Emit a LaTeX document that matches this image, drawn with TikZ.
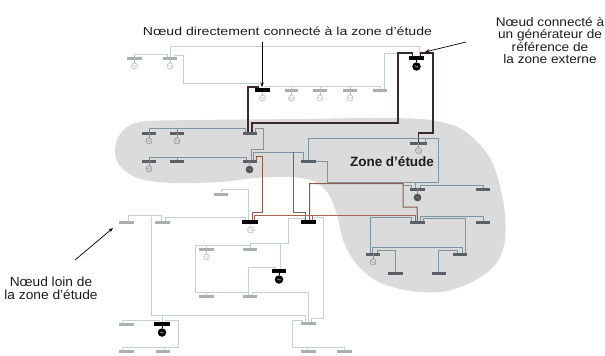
\documentclass[tikz,border=0pt]{standalone}
\usepackage{fontspec}
\usepackage{graphicx}
\setmainfont{Liberation Sans}
\usetikzlibrary{arrows.meta}
\definecolor{blobc}{RGB}{219,219,219}
\definecolor{olc}{RGB}{196,207,214}
\definecolor{zlc}{RGB}{122,150,162}
\definecolor{brc}{RGB}{140,88,74}
\definecolor{dkc}{RGB}{55,42,40}
\definecolor{rbc}{RGB}{172,100,82}
\definecolor{obc}{RGB}{168,176,181}
\definecolor{zbc}{RGB}{90,96,102}
\definecolor{ogc}{RGB}{183,190,195}
\definecolor{zgc}{RGB}{138,146,151}
\definecolor{dgc}{RGB}{80,84,88}
\definecolor{txtc}{RGB}{30,30,30}
\tikzset{
  outline/.style={draw=olc,line width=0.9pt},
  zline/.style={draw=zlc,line width=1pt},
  bline/.style={draw=brc,line width=1pt},
  dline/.style={draw=dkc,line width=1.2pt},
  rline/.style={draw=rbc,line width=1pt},
  busbase/.style={rectangle,inner sep=0pt,minimum height=2.6pt,minimum width=#1},
  busbase/.default=14pt,
  ob/.style={busbase=#1,fill=obc},
  ob/.default=14pt,
  zb/.style={busbase=#1,fill=zbc},
  zb/.default=14pt,
  kb/.style={busbase=#1,fill=black,minimum height=3pt},
  kb/.default=15pt,
  wave/.style={path picture={\draw[line width=0.35pt,draw=#1]
     ([xshift=-1.7pt]path picture bounding box.center)
     .. controls +(0.6pt,1.1pt) and +(-0.6pt,1.1pt) .. (path picture bounding box.center)
     .. controls +(0.6pt,-1.1pt) and +(-0.6pt,-1.1pt) .. ([xshift=1.7pt]path picture bounding box.center);}},
  gl/.style={circle,draw=ogc,line width=0.6pt,minimum size=6pt,inner sep=0pt,wave=ogc},
  gz/.style={circle,draw=zgc,line width=0.6pt,minimum size=6pt,inner sep=0pt,wave=zgc},
  gd/.style={circle,draw=dgc,fill=dgc,line width=0.6pt,minimum size=7pt,inner sep=0pt,wave=zgc},
  gk/.style={circle,fill=black,minimum size=8.5pt,inner sep=0pt,wave=white},
  stubo/.style={draw=ogc,line width=0.6pt},
  stubz/.style={draw=zgc,line width=0.6pt},
  stubk/.style={draw=black,line width=1pt},
  arr/.style={draw=black,line width=0.7pt,-{Stealth[length=4.5pt,width=3.5pt]}},
  lbl/.style={text=txtc,inner sep=0pt},
}
\begin{document}
\begin{tikzpicture}[x=1pt,y=-1pt]
\useasboundingbox (0,0) rectangle (605,356);
\fill[white] (0,0) rectangle (605,356);
% study zone
\fill[blobc] plot[smooth cycle,tension=0.55] coordinates {
 (140,122) (200,120) (300,119) (380,118) (430,120) (463,130) (490,158)
 (503,200) (505,240) (495,265) (470,283) (440,292) (405,290) (375,280)
 (355,262) (343,240) (337,215) (328,193) (313,181) (290,177) (255,178)
 (220,182) (175,183) (140,179) (120,166) (115,150) (121,133)};

% ---- buses ----
\node[ob=15pt] (b1) at (134.5,58) {};
\node[ob] (b2) at (170,58) {};
\node[kb] (mt) at (262.5,90) {};
\node[ob=13pt] (m1) at (291.5,90) {};
\node[ob] (m2) at (320,90) {};
\node[ob] (m3) at (350,90) {};
\node[ob] (m4) at (380,90) {};
\node[kb=14pt] (tr) at (416.5,58) {};
\node[zb] (A) at (149,133) {};
\node[zb] (B) at (177,133) {};
\node[zb] (C) at (250,133) {};
\node[zb] (D) at (149,161) {};
\node[zb] (E) at (177,161) {};
\node[zb] (F) at (250,161) {};
\node[zb] (I) at (308.5,161) {};
\node[zb=17pt] (H) at (418.5,143) {};
\node[zb=15pt] (L) at (417.5,189) {};
\node[zb] (M) at (483,189) {};
\node[zb=15pt] (N) at (417.5,222) {};
\node[zb] (O) at (483,222) {};
\node[zb] (P) at (373,254) {};
\node[zb] (Q) at (460,254) {};
\node[zb=15pt] (R) at (395.5,273) {};
\node[zb] (S) at (439,273) {};
\node[ob] (T) at (221,194) {};
\node[kb] (J) at (250,222) {};
\node[kb=14pt] (K) at (308.5,222) {};
\node[ob] (V) at (126.5,222) {};
\node[ob=15pt] (W) at (162.5,222) {};
\node[ob] (AA) at (206.5,249) {};
\node[ob] (AB) at (250,249) {};
\node[kb=14pt] (AC) at (279,271) {};
\node[ob] (AD) at (206.5,296) {};
\node[ob] (AE) at (250,296) {};
\node[ob] (U) at (308.5,323) {};
\node[ob] (AH) at (126.5,324) {};
\node[kb] (Z) at (162,324) {};
\node[ob] (AG) at (126.5,351) {};
\node[ob=14pt] (AF) at (163,351) {};
\node[ob] (AI) at (308.5,351) {};
\node[ob=15pt] (AJ) at (344.5,351) {};

% free corner points
\coordinate (j1) at (398,53);
\coordinate (j2) at (293,152);
\coordinate (j3) at (151,217);
\coordinate (j4) at (195,245);
\coordinate (j5) at (280,243);
\coordinate (j6) at (292,320);

% ---- connectors ----
% outer top network
\draw[outline] (b2.center) -- ++(0,-12) -| ([xshift=2.5pt]tr.center);
\draw[outline] (b1.center) -- ++(0,-4) -| ([xshift=-3pt]b2.center);
\draw[outline] ([xshift=4pt]b2.center) -- ++(0,-3) -- ++(9,0) -- (183,83) -| ([xshift=-4pt]mt.center);
\draw[outline] ([xshift=3pt]mt.center) -- ++(0,-4) -| (m4.center);
\draw[outline] (m1.center) -- ++(0,-4);
\draw[outline] (m2.center) -- ++(0,-4);
\draw[outline] (m3.center) -- ++(0,-4);
\draw[outline] ([xshift=4pt]m4.center) |- (j1);
% dark links to the zone
\draw[dline] ([xshift=-4pt]tr.center) |- (j1) -- (398,123) -| ([xshift=2pt]C.center);
\draw[dline] ([xshift=4pt]tr.center) -- ++(0,-5) -| (433,133) -| (H.center);
\draw[dline] ([xshift=-4pt]mt.center) -- ++(0,-3) -| ([xshift=-2pt]C.center);
% zone
\draw[zline] (A.center) -- ++(0,-5) -| ([xshift=-5pt]C.center);
\draw[zline] (B.center) -- ++(0,-5);
\draw[zline] ([xshift=5pt]C.center) -- ++(0,-5) -- ++(8,0) |- (251,149) -| ([xshift=1pt]F.center);
\draw[zline] (D.center) -- ++(0,-4) -| ([xshift=-4pt]F.center);
\draw[zline] (E.center) -- ++(0,-4);
\draw[zline] ([xshift=3pt]F.center) -- ++(0,-9) -| ([xshift=-5pt]I.center);
\draw[bline] (j2) -- (293,212) -| ([xshift=-3pt]K.center);
\draw[bline] ([xshift=6pt]F.center) -- ++(0,-5) -- ++(6,0) -- (262,212) -| ([xshift=2pt]J.center);
\draw[zline] (I.center) -- ++(0,-23) -| (438,182) -- (327,182) |- ([xshift=6pt]I.center);
\draw[zline] ([xshift=7pt]H.center) -- ++(0,-5) -- (438,138);
\draw[zline] ([xshift=-2pt]L.center) -- ++(0,-7);
\draw[zline] ([xshift=3pt]L.center) -- ++(0,-4) -| (M.center);
\draw[zline] ([xshift=-6pt]L.center) -- ++(0,-4) -- (403,185);
\draw[bline] ([xshift=1pt]K.center) -- ++(0,-38.5) -- (403,183.5) |- (417,207) -- (N.center);
\draw[rline] ([xshift=4pt]J.center) -- ++(0,-7) -| ([xshift=-2pt]N.center);
\draw[rline] ([xshift=4pt]K.center) -- ++(0,-7);
\draw[zline] ([xshift=3pt]N.center) -- ++(0,-6) -| (O.center);
\draw[zline] ([xshift=-6pt]N.center) -- ++(0,-5) -| ([xshift=-3pt]P.center);
\draw[zline] ([xshift=6pt]N.center) -- ++(0,-4) -| ([xshift=5pt]Q.center);
\draw[zline] ([xshift=-1pt]P.center) -- ++(0,-7) -| ([xshift=2pt]Q.center);
\draw[zline] ([xshift=4pt]P.center) -- ++(0,-4) -| (R.center);
\draw[zline] ([xshift=-3pt]Q.center) -- ++(0,-4) -| ([xshift=-1pt]S.center);
% outer lower network
\draw[outline] (T.center) -- ++(0,-5) -| ([xshift=-2pt]J.center);
\draw[outline] ([xshift=2pt]V.center) -- ++(0,-7) -| ([xshift=-1pt]W.center);
\draw[outline] ([xshift=3pt]W.center) -- ++(0,-5) -| ([xshift=-5pt]J.center);
\draw[outline] (j3) -- (151,315) -| ([xshift=-3pt]U.center);
\draw[outline] (Z.center) -- ++(0,-9);
\draw[outline] ([xshift=-4pt]AH.center) -- ++(0,-4) -- ([xshift=-2pt,yshift=4pt]Z.center);
\draw[outline] ([xshift=3pt]Z.center) -- ++(0,-4) -- (178,320) -- (178,347) -| ([xshift=1pt]AF.center);
\draw[outline] ([xshift=-4pt]AG.center) -- ++(0,-4) -| ([xshift=1pt]AF.center);
\draw[outline] (j4) -| (AB.center);
\draw[outline] (AA.center) -- ++(0,-4);
\draw[outline] (j4) |- (206.5,292) -- (AD.center);
\draw[outline] (AD.center) -- ++(0,-4) -| ([xshift=-2pt]AE.center);
\draw[outline] ([xshift=-2pt]AE.center) -- ++(0,-29) -| ([xshift=-4pt]AC.center);
\draw[outline] ([xshift=2pt]AE.center) -- ++(0,-4) -| (U.center);
\draw[outline] (AB.center) -- ++(0,-6) -- (288,243) -- (288,218) -| ([xshift=-4pt]K.center);
\draw[outline] (j5) -- ([xshift=1pt]AC.center);
\draw[outline] ([xshift=6pt]K.center) -- ++(0,-5) -- (323,217) -- (323,318) -| ([xshift=3pt]U.center);
\draw[outline] ([xshift=-6pt]U.center) -- ++(0,-3) -- (j6) -- (292,347) -| ([xshift=-1pt]AI.center);
\draw[outline] (307.5,347) -| (AJ.center);

% redraw buses on top
\foreach \n in {b1,b2,m1,m2,m3,m4,T,V,W,AA,AB,AD,AE,U,AH,AG,AF,AI,AJ}
  {\fill[obc] (\n.south west) rectangle (\n.north east);}
\foreach \n in {A,B,C,D,E,F,I,H,L,M,N,O,P,Q,R,S}
  {\fill[zbc] (\n.south west) rectangle (\n.north east);}
\foreach \n in {mt,tr,J,K,AC,Z}
  {\fill[black] (\n.south west) rectangle (\n.north east);}

% ---- generators ----
\node[gl] (gb1) at (134.5,66) {};   \draw[stubo] (b1.center) -- (gb1.north);
\node[gl] (gb2) at (170,66) {};     \draw[stubo] (b2.center) -- (gb2.north);
\node[gl] (gmt) at (262.5,98) {};   \draw[stubo] (mt.south) -- (gmt.north);
\node[gl] (gm1) at (291.5,98) {};   \draw[stubo] (m1.center) -- (gm1.north);
\node[gl] (gm2) at (320,98) {};     \draw[stubo] (m2.center) -- (gm2.north);
\node[gl] (gm3) at (350,98) {};     \draw[stubo] (m3.center) -- (gm3.north);
\node[gk] (gtr) at (416.5,66.5) {}; \draw[stubk] (tr.center) -- (gtr.north);
\node[gz] (gA) at (149,141) {};     \draw[stubz] (A.center) -- (gA.north);
\node[gz] (gB) at (177,141) {};     \draw[stubz] (B.center) -- (gB.north);
\node[gz] (gD) at (149,169) {};     \draw[stubz] (D.center) -- (gD.north);
\node[gd] (gF) at (249.5,169.5) {}; \draw[stubz] (F.center) -- (gF.north);
\node[gz] (gH) at (418.5,150.5) {}; \draw[stubz] (H.center) -- (gH.north);
\node[gd] (gL) at (417.5,197.5) {}; \draw[stubz] (L.center) -- (gL.north);
\node[gz] (gP) at (373,262) {};     \draw[stubz] (P.center) -- (gP.north);
\node[gl] (gJ) at (250.5,230) {};   \draw[stubo] (J.south) -- (gJ.north);
\node[gl] (gAA) at (206.5,257) {};  \draw[stubo] (AA.center) -- (gAA.north);
\node[gk] (gAC) at (279,279.5) {};  \draw[stubk] (AC.center) -- (gAC.north);
\node[gk] (gZ) at (162,332.5) {};   \draw[stubk] (Z.center) -- (gZ.north);

% ---- texts ----
\node[lbl] (t1) at (287.5,31.5)
  {\resizebox{289pt}{\height}{\fontsize{11.6}{14}\selectfont Nœud directement connecté à la zone d’étude}};
\node[lbl,align=center,font=\fontsize{12.4}{12.5}\selectfont] (t2) at (550,40.5)
  {\scalebox{1.1}[1]{Nœud connecté à}\\\scalebox{1.1}[1]{un générateur de}\\\scalebox{1.1}[1]{référence de}\\\scalebox{1.1}[1]{la zone externe}};
\node[lbl,align=center,font=\fontsize{13.2}{13}\selectfont] (t3) at (51,288.5)
  {\scalebox{1.04}[1]{Nœud loin de}\\\scalebox{1.04}[1]{la zone d’étude}};
\node[lbl,font=\bfseries\fontsize{13.5}{15}\selectfont] (zt) at (392,162)
  {Zone d’étude};

% ---- pointer arrows ----
\coordinate (a1) at (262,42);
\coordinate (a1e) at (262,87);
\draw[arr] (a1) -- (a1e);
\coordinate (a2) at (466,42);
\coordinate (a2e) at (425,52);
\draw[arr] (a2) -- (a2e);
\coordinate (a3) at (75,260);
\coordinate (a3e) at (113,228);
\draw[arr] (a3) -- (a3e);
\end{tikzpicture}
\end{document}
